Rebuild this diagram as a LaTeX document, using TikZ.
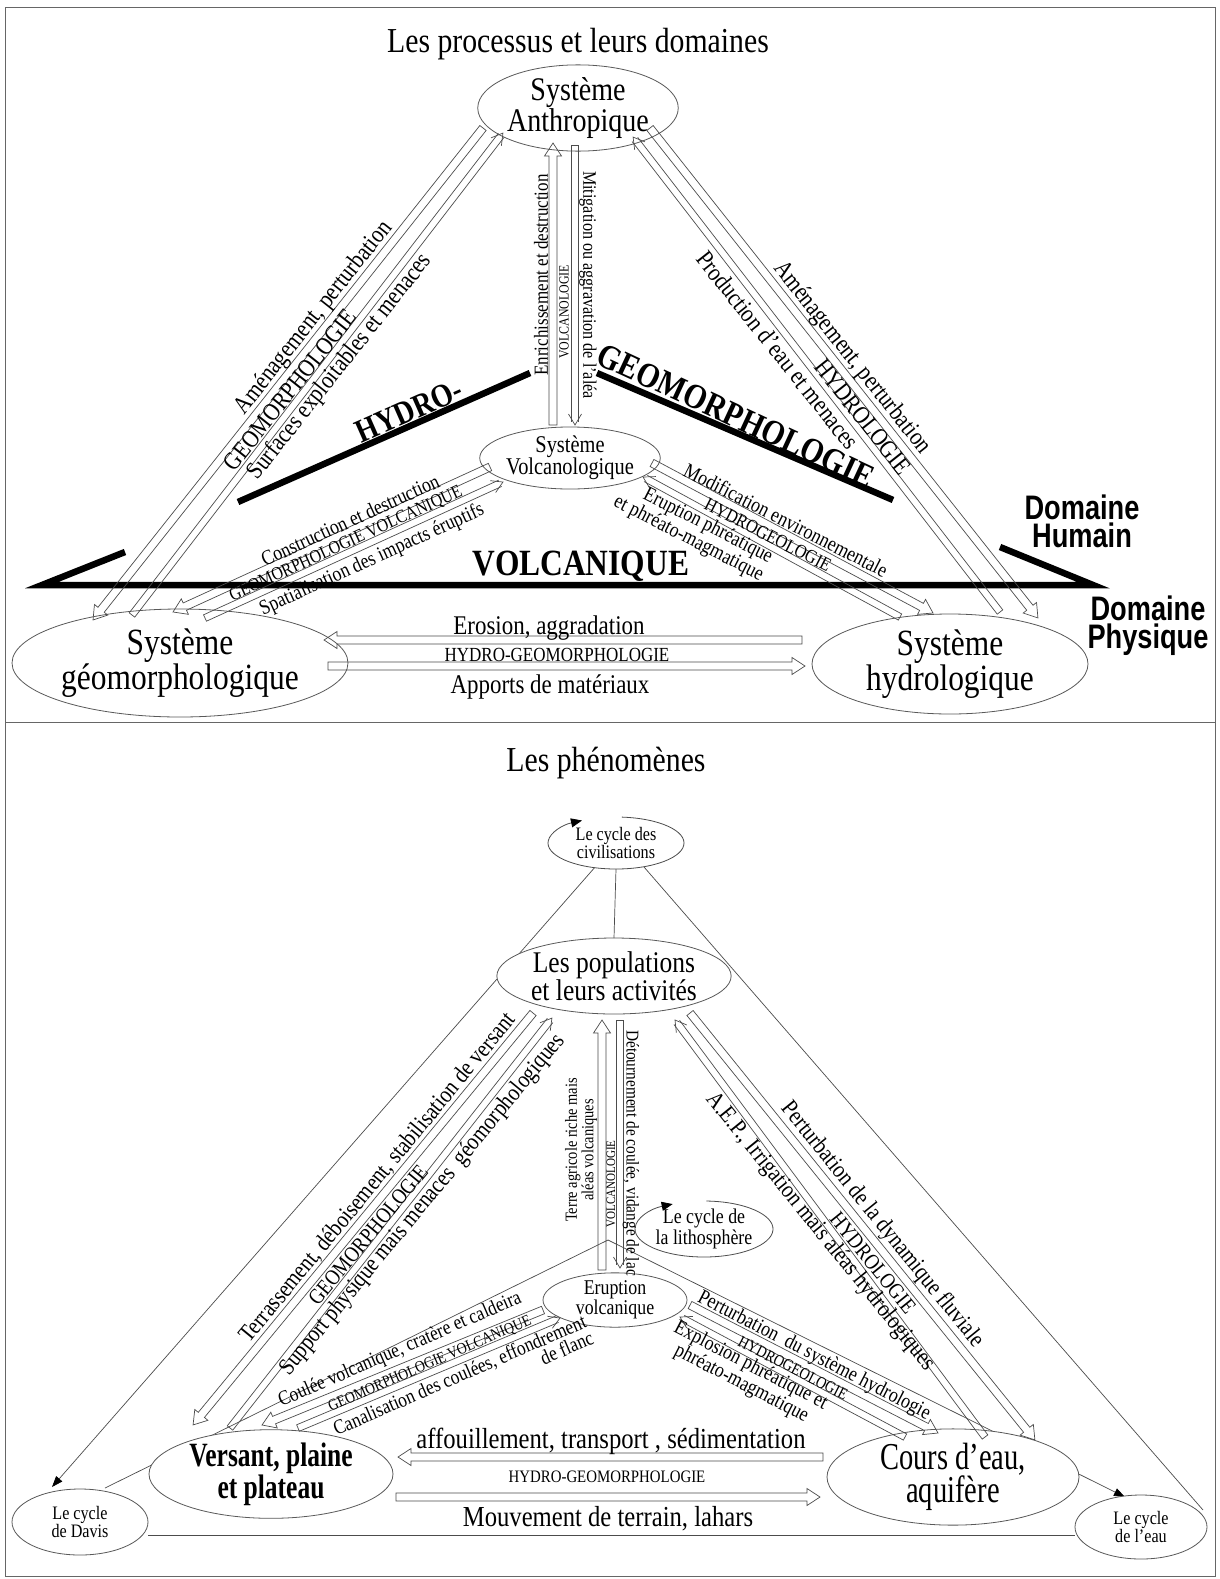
\documentclass[tikz,border=0pt]{standalone}
\usepackage{fontspec}
\setmainfont{Liberation Serif}
\newfontfamily\tnr[FakeStretch=0.85]{Liberation Serif}
\newfontfamily\tnrc[FakeStretch=0.75]{Liberation Serif}
\newfontfamily\snb[FakeStretch=0.8]{Liberation Sans}
\usetikzlibrary{shapes.geometric,calc,arrows.meta}
\newcommand\fz[2]{\fontsize{#1}{#2}\selectfont}
\newcommand\blockarr[2]{%
  \path let \p1=(#1), \p2=(#2) in \pgfextra{%
    \pgfmathsetmacro\tmpang{atan2(\y2-\y1,\x2-\x1)}%
    \pgfmathsetmacro\tmplen{veclen(\x2-\x1,\y2-\y1)}%
    \xdef\Ang{\tmpang}\xdef\Len{\tmplen}};
  \draw[arr, shift={(#1)}, rotate=\Ang] (0,-4) -- ({\Len-13},-4) -- ({\Len-13},-8.5) -- (\Len,0) -- ({\Len-13},8.5) -- ({\Len-13},4) -- (0,4) -- cycle;
}
\newcommand\thinarr[2]{%
  \path let \p1=(#1), \p2=(#2) in \pgfextra{%
    \pgfmathsetmacro\tmpang{atan2(\y2-\y1,\x2-\x1)}%
    \pgfmathsetmacro\tmplen{veclen(\x2-\x1,\y2-\y1)}%
    \xdef\Ang{\tmpang}\xdef\Len{\tmplen}};
  \draw[arr, shift={(#1)}, rotate=\Ang] ({\Len-3},-3.5) -- (0,-3.5) -- (0,3.5) -- ({\Len-3},3.5);
  \draw[arr, shift={(#1)}, rotate=\Ang] ({\Len-11},-6.5) -- (\Len,0) -- ({\Len-11},6.5);
}
\begin{document}
\begin{tikzpicture}[x=1pt,y=-1pt,
  every node/.style={inner sep=0pt,outer sep=0pt},
  ell/.style={draw=black!65,line width=0.8pt,ellipse,fill=white,align=center,text=black},
  lab/.style={text=black},
  arr/.style={draw=black!70,line width=0.7pt},
  dom/.style={line width=6.5pt,black},
  thinl/.style={draw=black!70,line width=0.7pt},
  headtip/.style={-{Triangle[length=11pt,width=8pt,black]}},
  cyc/.style={draw=black!70,line width=0.8pt,-{Triangle[length=11pt,width=9pt,black]}},
  frame/.style={draw=black!60,line width=1pt}]
\useasboundingbox (0,0) rectangle (1220,1579);
\fill[white] (0,0) rectangle (1220,1579);
% frame
\coordinate (f1) at (5,8); \coordinate (f2) at (1215,1576);
\coordinate (s1) at (5,722); \coordinate (s2) at (1215,722);
\draw[frame] (f1) rectangle (f2);
\draw[frame] (s1) -- (s2);

%================ TOP PANEL =================
\node[lab,font={\tnr\fz{35}{38}}] (t1) at (578,44) {Les processus et leurs domaines};

% domain lines
\coordinate (h1) at (238,502); \coordinate (h2) at (530,373);
\coordinate (g1) at (597,373); \coordinate (g2) at (893,500);
\coordinate (v1) at (125,552); \coordinate (v2) at (42,585);
\coordinate (v3) at (1093,585); \coordinate (v4) at (1000,547);
\draw[dom] (h1) -- (h2);
\draw[dom] (g1) -- (g2);
\draw[dom,line join=miter] (v1) -- (v2) -- (v3) -- (v4);

\node[ell,minimum width=158,minimum height=78,font={\tnr\fz{33}{30}}] (A) at (578,108) {Système\\Anthropique};
\node[ell,minimum width=160,minimum height=50,font={\tnr\fz{24}{22}}] (V) at (570,458) {Système\\Volcanologique};
\node[ell,minimum width=270,minimum height=108,font={\tnr\fz{37}{32}}] (G) at (180,663) {Système\\géomorphologique};
\node[ell,minimum width=276,minimum height=100,font={\tnr\fz{37}{32}}] (H) at (950,664) {Système\\hydrologique};

% arrow end points
\coordinate (a1s) at (483,128); \coordinate (a1e) at (93,620);
\coordinate (a2s) at (132,615); \coordinate (a2e) at (503,133);
\coordinate (a3s) at (553,425); \coordinate (a3e) at (553,143);
\coordinate (a4s) at (575,145); \coordinate (a4e) at (575,425);
\coordinate (a5s) at (650,128); \coordinate (a5e) at (1038,618);
\coordinate (a6s) at (1000,612); \coordinate (a6e) at (633,137);
\coordinate (a7s) at (490,467); \coordinate (a7e) at (173,612);
\coordinate (a8s) at (205,618); \coordinate (a8e) at (503,482);
\coordinate (a9s) at (652,463); \coordinate (a9e) at (933,613);
\coordinate (a10s) at (900,617); \coordinate (a10e) at (643,477);
\coordinate (a11s) at (802,640); \coordinate (a11e) at (324,640);
\coordinate (a12s) at (328,666); \coordinate (a12e) at (805,666);
\blockarr{a1s}{a1e}
\thinarr{a2s}{a2e}
\blockarr{a3s}{a3e}
\thinarr{a4s}{a4e}
\blockarr{a5s}{a5e}
\thinarr{a6s}{a6e}
\blockarr{a7s}{a7e}
\thinarr{a8s}{a8e}
\blockarr{a9s}{a9e}
\thinarr{a10s}{a10e}
\blockarr{a11s}{a11e}
\blockarr{a12s}{a12e}

% domain labels
\node[lab,rotate=23.8,font={\tnr\bfseries\fz{33}{33}}] (lh) at (409,411) {HYDRO-};
\node[lab,rotate=-24.9,font={\tnr\bfseries\fz{35}{35}}] (lg) at (736,416) {GEOMORPHOLOGIE};
\node[lab,font={\tnr\bfseries\fz{37}{37}}] (lv) at (581,566) {VOLCANIQUE};
\node[lab,align=center,font={\snb\bfseries\fz{34}{28}}] (dh) at (1082,521) {Domaine\\Humain};
\node[lab,align=center,font={\snb\bfseries\fz{34}{28}}] (dp) at (1148,626) {Domaine\\Physique};

% arrow labels
\node[lab,rotate=51.6,font={\tnr\fz{25}{25}}] (l1) at (314,318) {Aménagement, perturbation};
\node[lab,rotate=51.6,font={\tnr\fz{25}{25}}] (l2) at (290,390) {GEOMORPHOLOGIE};
\node[lab,rotate=51.6,font={\tnr\fz{25}{25}}] (l3) at (340,367) {Surfaces exploitables et menaces};
\node[lab,rotate=90,font={\tnr\fz{20}{20}}] (l4) at (541,275) {Enrichissement et destruction};
\node[lab,rotate=90,font={\tnr\fz{14}{14}}] (l5) at (564,312) {VOLCANOLOGIE};
\node[lab,rotate=-90,font={\tnr\fz{19}{19}}] (l6) at (588,285) {Mitigation ou aggravation de l’aléa};
\node[lab,rotate=-51.6,font={\tnr\fz{25}{25}}] (l7) at (778,350) {Production d’eau et menaces};
\node[lab,rotate=-51.6,font={\tnr\fz{25}{25}}] (l8) at (863,417) {HYDROLOGIE};
\node[lab,rotate=-51.6,font={\tnr\fz{25}{25}}] (l9) at (852,358) {Aménagement, perturbation};
\node[lab,rotate=24.6,font={\tnr\fz{21}{21}}] (l10) at (350,520) {Construction et destruction};
\node[lab,rotate=24.6,font={\tnr\fz{18.5}{18.5}}] (l11) at (346,544) {GEOMORPHOLOGIE VOLCANIQUE};
\node[lab,rotate=24.6,font={\tnr\fz{21}{21}}] (l12) at (372,560) {Spatialisation des impacts éruptifs};
\node[lab,rotate=-27,font={\tnr\fz{21}{21}}] (l13) at (786,520) {Modification environnementale};
\node[lab,rotate=-27,font={\tnr\fz{19}{19}}] (l14) at (768,535) {HYDROGEOLOGIE};
\node[lab,rotate=-27,align=right,font={\tnr\fz{21}{19}}] (l15) at (693,530) {Eruption phréatique\\et phréato-magmatique};
\node[lab,font={\tnr\fz{27}{27}}] (l16) at (549,628) {Erosion, aggradation};
\node[lab,font={\tnr\fz{20}{20}}] (l17) at (557,655) {HYDRO-GEOMORPHOLOGIE};
\node[lab,font={\tnr\fz{27}{27}}] (l18) at (550,687) {Apports de matériaux};

%================ BOTTOM PANEL =================
\node[lab,font={\tnr\fz{35}{38}}] (t2) at (606,763) {Les phénomènes};

% thin structural lines
\coordinate (apex) at (608,1240);
\coordinate (o1) at (596,866); \coordinate (o2) at (52,1487);
\coordinate (o3) at (644,867); \coordinate (o4) at (1203,1510);
\coordinate (i1) at (105,1488); \coordinate (i2) at (1125,1497);
\coordinate (b1) at (148,1535); \coordinate (b2) at (1075,1535);
\draw[thinl,headtip] (o1) -- (o2);
\draw[thinl] (o3) -- (o4);
\draw[thinl] (apex) -- (i1);
\draw[thinl,headtip] (apex) -- (i2);
\draw[thinl] (b1) -- (b2);

\node[ell,draw=none,minimum width=136,minimum height=52,font={\tnr\fz{19}{17}}] (Civ) at (616,843) {Le cycle des\\civilisations};
\node[ell,minimum width=192,minimum height=76,font={\tnr\fz{30}{27}}] (Pop) at (614,976) {Les populations\\et leurs activités};
\node[ell,draw=none,minimum width=138,minimum height=56,font={\tnr\fz{21}{18}}] (Lit) at (704,1229) {Le cycle de\\la lithosphère};
\node[ell,minimum width=144,minimum height=46,font={\tnr\fz{21}{19}}] (Eru) at (615,1300) {Eruption\\volcanique};
\node[ell,minimum width=244,minimum height=80,font={\tnrc\bfseries\fz{34}{30}}] (Ver) at (271,1474) {Versant, plaine\\et plateau};
\node[ell,minimum width=252,minimum height=80,font={\tnrc\fz{38}{31}}] (Cou) at (953,1477) {Cours d’eau,\\aquifère};
\node[ell,minimum width=136,minimum height=66,font={\tnr\fz{19}{18}}] (Dav) at (80,1522) {Le cycle\\de Davis};
\node[ell,minimum width=132,minimum height=64,font={\tnr\fz{19}{18}}] (Eau) at (1141,1527) {Le cycle\\de l’eau};
\draw[thinl] (Civ.south) -- (Pop.north);

% cycle arcs
\draw[cyc] ($(Lit.center)+(88:69pt and 28pt)$) arc[start angle=88,end angle=-243,x radius=69pt,y radius=28pt];
\draw[cyc] ($(Civ.center)+(85:68pt and 26pt)$) arc[start angle=85,end angle=-240,x radius=68pt,y radius=26pt];

% arrows
\coordinate (b1s) at (533,1013); \coordinate (b1e) at (193,1425);
\coordinate (b2s) at (230,1428); \coordinate (b2e) at (552,1018);
\coordinate (b3s) at (602,1270); \coordinate (b3e) at (602,1020);
\coordinate (b4s) at (620,1020); \coordinate (b4e) at (620,1268);
\coordinate (b5s) at (690,1013); \coordinate (b5e) at (1035,1440);
\coordinate (b6s) at (985,1437); \coordinate (b6e) at (675,1020);
\coordinate (b7s) at (543,1310); \coordinate (b7e) at (262,1425);
\coordinate (b8s) at (298,1428); \coordinate (b8e) at (560,1318);
\coordinate (b9s) at (690,1305); \coordinate (b9e) at (938,1433);
\coordinate (b10s) at (905,1437); \coordinate (b10e) at (680,1317);
\coordinate (b11s) at (823,1457); \coordinate (b11e) at (398,1457);
\coordinate (b12s) at (396,1497); \coordinate (b12e) at (820,1497);
\blockarr{b1s}{b1e}
\thinarr{b2s}{b2e}
\blockarr{b3s}{b3e}
\thinarr{b4s}{b4e}
\blockarr{b5s}{b5e}
\thinarr{b6s}{b6e}
\blockarr{b7s}{b7e}
\thinarr{b8s}{b8e}
\blockarr{b9s}{b9e}
\thinarr{b10s}{b10e}
\blockarr{b11s}{b11e}
\blockarr{b12s}{b12e}

% labels
\node[lab,rotate=50.5,font={\tnr\fz{24}{24}}] (m1) at (378,1178) {Terrassement, déboisement, stabilisation de versant};
\node[lab,rotate=50.5,font={\tnr\fz{22}{22}}] (m2) at (368,1235) {GEOMORPHOLOGIE};
\node[lab,rotate=50.5,font={\tnr\fz{24}{24}}] (m3) at (423,1205) {Support physique mais menaces\ \ géomorphologiques};
\node[lab,rotate=90,align=center,font={\tnr\fz{17}{15}}] (m4) at (581,1150) {Terre agricole riche mais\\aléas volcaniques};
\node[lab,rotate=90,font={\tnr\fz{13}{13}}] (m5) at (611,1184) {VOLCANOLOGIE};
\node[lab,rotate=-90,font={\tnr\fz{18}{18}}] (m6) at (631,1153) {Détournement de coulée, vidange de lac};
\node[lab,rotate=-51,font={\tnr\fz{24}{24}}] (m7) at (820,1232) {A.E.P., Irrigation mais aléas hydrologiques};
\node[lab,rotate=-51,font={\tnr\fz{22}{22}}] (m8) at (873,1263) {HYDROLOGIE};
\node[lab,rotate=-51,font={\tnr\fz{24}{24}}] (m9) at (882,1225) {Perturbation de la dynamique fluviale};
\node[lab,rotate=23.5,font={\tnr\fz{20.5}{20.5}}] (m10) at (400,1350) {Coulée volcanique, cratère et caldeira};
\node[lab,rotate=23.5,font={\tnr\fz{16}{16}}] (m11) at (430,1364) {GEOMORPHOLOGIE VOLCANIQUE};
\node[lab,rotate=23.5,align=right,font={\tnr\fz{20.5}{18}}] (m12) at (463,1383) {Canalisation des coulées, effondrement\\de flanc};
\node[lab,rotate=-27.3,font={\tnr\fz{21}{21}}] (m13) at (814,1356) {Perturbation\ \ du système hydrologie};
\node[lab,rotate=-27.3,font={\tnr\fz{16.5}{16.5}}] (m14) at (793,1368) {HYDROGEOLOGIE};
\node[lab,rotate=-27.3,align=center,font={\tnr\fz{21}{17}}] (m15) at (746,1375) {Explosion phréatique et\\phréato-magmatique};
\node[lab,font={\tnr\fz{29}{29}}] (m16) at (611,1441) {affouillement, transport , sédimentation};
\node[lab,font={\tnr\fz{17.5}{17.5}}] (m17) at (607,1477) {HYDRO-GEOMORPHOLOGIE};
\node[lab,font={\tnr\fz{29}{29}}] (m18) at (608,1519) {Mouvement de terrain, lahars};
\end{tikzpicture}
\end{document}
